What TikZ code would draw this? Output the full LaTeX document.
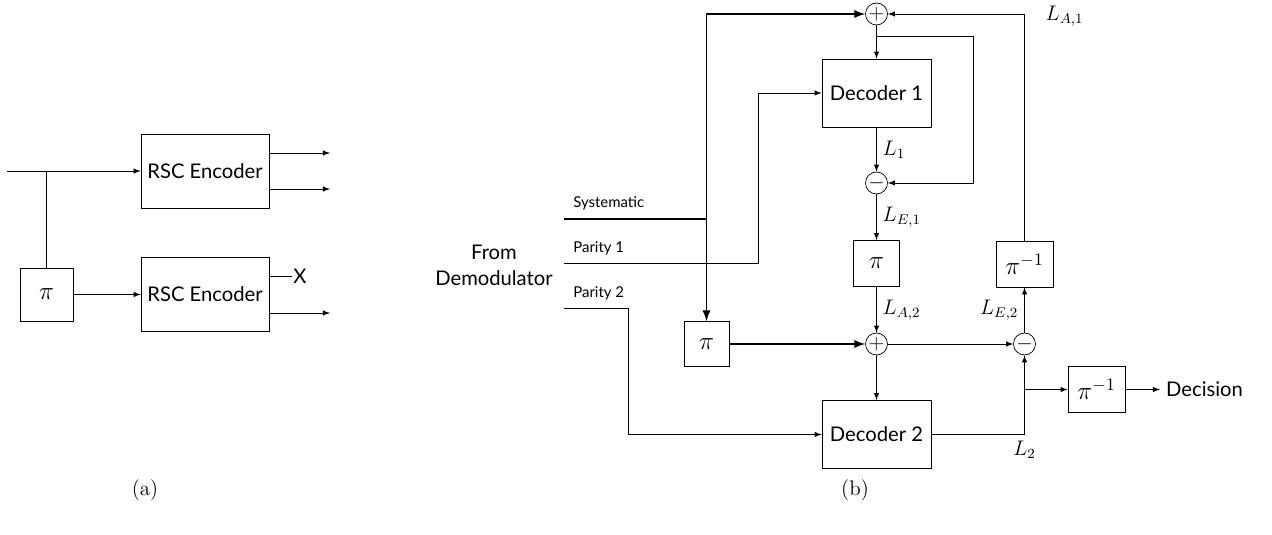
\documentclass[tikz,border=0pt]{standalone}
\usepackage{fontspec}
\setsansfont{Lato}
\usepackage{amsmath}

\tikzset{
  blk/.style={draw, font=\sffamily\fontsize{11.5}{14}\selectfont},
  pbox/.style={draw, font=\fontsize{14.4}{16}\selectfont},
  sumc/.style={draw, circle, minimum size=0.44cm, inner sep=0pt, font=\fontsize{12}{14}\selectfont},
  lbl/.style={font=\fontsize{12}{14}\selectfont},
  chan/.style={anchor=west, inner sep=0pt, font=\sffamily\fontsize{8.5}{10}\selectfont},
  sysline/.style={line width=1.1pt},
}

\begin{document}
\begin{tikzpicture}[>=latex]
\useasboundingbox (0,0) rectangle (25.44,10.68);

% (a) encoder
\node[blk, minimum width=2.56cm, minimum height=1.48cm] (enc1) at (4.10,7.26) {RSC Encoder};
\node[blk, minimum width=2.56cm, minimum height=1.48cm] (enc2) at (4.10,4.79) {RSC Encoder};
\node[pbox, minimum size=1.06cm] (pia) at (0.93,4.79) {$\pi$};
\coordinate (ain) at (0.14,7.26);
\coordinate (ao1) at (6.6,7.62);
\coordinate (ao2) at (6.6,6.90);
\coordinate (ao4) at (6.6,4.42);
\node[inner sep=0.6pt, font=\sffamily\fontsize{11.5}{14}\selectfont] (xx) at (6.0,5.16) {X};

\draw[->] (ain) -- (enc1.west);
\draw (pia.north) -- (pia.north |- enc1.west);
\draw[->] (pia) -- (enc2);
\draw[->] (ao1 -| enc1.east) -- (ao1);
\draw[->] (ao2 -| enc1.east) -- (ao2);
\draw (xx -| enc2.east) -- (xx.west);
\draw[->] (ao4 -| enc2.east) -- (ao4);

% (b) decoder
\node[blk, minimum width=2.18cm, minimum height=1.36cm] (dec1) at (17.53,8.82) {Decoder 1};
\node[blk, minimum width=2.18cm, minimum height=1.36cm] (dec2) at (17.53,1.99) {Decoder 2};
\node[sumc] (add1) at (17.53,10.40) {$+$};
\node[sumc] (sub1) at (17.53,7.02) {$-$};
\node[pbox, minimum size=0.92cm] (pim) at (17.53,5.41) {$\pi$};
\node[sumc] (add2) at (17.53,3.80) {$+$};
\node[pbox, minimum size=0.9cm] (pib) at (14.13,3.80) {$\pi$};
\node[sumc] (sub2) at (20.49,3.80) {$-$};
\node[pbox, minimum width=1.14cm, minimum height=0.92cm, inner sep=1pt] (pinv1) at (20.49,5.40) {$\pi^{-1}$};
\node[pbox, minimum width=1.14cm, minimum height=0.92cm, inner sep=1pt] (pinv2) at (21.93,2.89) {$\pi^{-1}$};
\node[anchor=west, font=\sffamily\fontsize{11.5}{14}\selectfont] (dcs) at (23.2,2.89) {Decision};

\node[align=center, font=\sffamily\fontsize{11.5}{14.8}\selectfont] (demod) at (9.88,5.38) {From\\Demodulator};
\node[chan] (sys) at (11.46,6.62) {Systematic};
\node[chan] (par1) at (11.46,5.72) {Parity 1};
\node[chan] (par2) at (11.46,4.82) {Parity 2};

% channel inputs
\coordinate (sysin) at (11.28,6.30);
\coordinate (p1in) at (11.28,5.42);
\coordinate (p2in) at (11.28,4.52);
\coordinate (sysj) at (14.13,6.30);
\coordinate (p1c) at (15.16,5.42);
\coordinate (p2c) at (12.56,4.52);
\draw[sysline] (sysin) -- (sysj);
\draw[sysline,->] (sysj) |- (add1.west);
\draw[sysline,->] (sysj) -- (pib.north);
\draw[sysline,->] (pib) -- (add2);
\draw[->] (p1in) -- (p1c) |- (dec1.west);
\draw[->] (p2in) -- (p2c) |- (dec2.west);

% first decoder
\coordinate (fbr) at (19.46,9.96);
\draw[->] (add1) -- (dec1);
\draw[->] (add1.south |- fbr) -- (fbr) |- (sub1.east);
\draw[->] (dec1) -- node[lbl, right] {$L_1$} (sub1);
\draw[->] (sub1) -- node[lbl, right] {$L_{E,1}$} (pim);
\draw[->] (pim) -- node[lbl, right] {$L_{A,2}$} (add2);

% second decoder
\draw[->] (add2) -- (dec2);
\draw[->] (add2) -- (sub2);
\draw[->] (sub2) -- node[lbl, left] {$L_{E,2}$} (pinv1);
\coordinate (tr) at (pinv1.north |- add1);
\draw[->] (pinv1) -- (tr) -- (add1);
\node[lbl, right, xshift=0.3cm, yshift=-0.05cm] (la1) at (tr) {$L_{A,1}$};
\coordinate (br) at (sub2 |- dec2);
\draw[->] (dec2) -- (br) -- (sub2);
\node[lbl, below] (l2) at (br) {$L_2$};
\coordinate (bj) at (sub2 |- pinv2);
\draw[->] (bj) -- (pinv2);
\draw[->] (pinv2) -- (dcs);

\node[lbl] (capa) at (2.9,0.88) {(a)};
\node[lbl] (capb) at (17.1,0.88) {(b)};

\end{tikzpicture}
\end{document}
